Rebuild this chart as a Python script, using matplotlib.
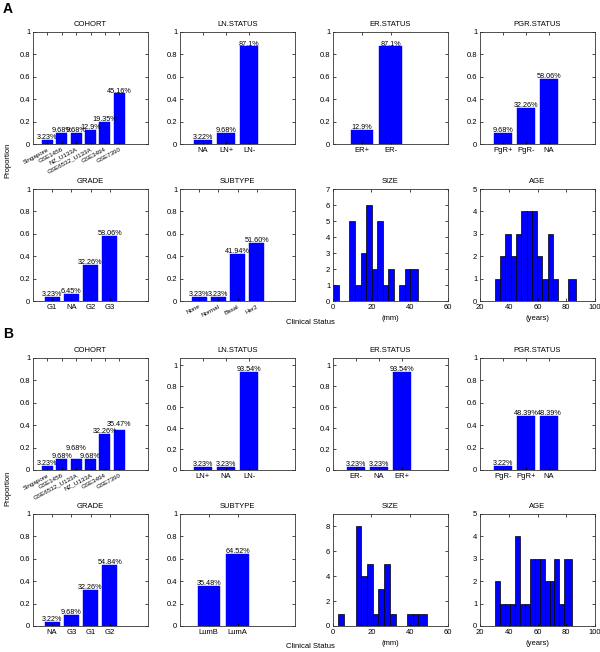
import matplotlib
matplotlib.use("Agg")
import matplotlib.pyplot as plt
import numpy as np

plt.rcParams['font.family'] = ['Liberation Sans Narrow', 'Liberation Sans', 'DejaVu Sans']
plt.rcParams['font.size'] = 5.5

BLUE = '#0000ff'

# ---- panel A data ----
cohort_a_names = ["Singapore", "GSE1456", "NZ_U133A", "GSE6532_U133A", "GSE3494", "GSE7390"]
cohort_a_vals = [0.0323, 0.0968, 0.0968, 0.129, 0.1935, 0.4516]
cohort_a_text = ["3.23%", "9.68%", "9.68%", "12.9%", "19.35%", "45.16%"]

ln_a_names = ["NA", "LN+", "LN-"]
ln_a_vals = [0.0322, 0.0968, 0.871]
ln_a_text = ["3.22%", "9.68%", "87.1%"]

er_a_names = ["ER+", "ER-"]
er_a_vals = [0.129, 0.871]
er_a_text = ["12.9%", "87.1%"]

pgr_a_names = ["PgR+", "PgR-", "NA"]
pgr_a_vals = [0.0968, 0.3226, 0.5806]
pgr_a_text = ["9.68%", "32.26%", "58.06%"]

grade_a_names = ["G1", "NA", "G2", "G3"]
grade_a_vals = [0.0323, 0.0645, 0.3226, 0.5806]
grade_a_text = ["3.23%", "6.45%", "32.26%", "58.06%"]

subtype_a_names = ["None", "Normal", "Basal", "Her2"]
subtype_a_vals = [0.0323, 0.0323, 0.4194, 0.516]
subtype_a_text = ["3.23%", "3.23%", "41.94%", "51.60%"]

size_a_edges = [0, 2.9, 5.8, 8.6, 11.5, 14.4, 17.3, 20.2, 23.0, 25.9, 28.8, 31.6, 34.5, 37.4, 40.3, 44.6]
size_a_counts = [1, 0, 0, 5, 1, 3, 6, 2, 5, 1, 2, 0, 1, 2, 2]

age_a_edges = [30.4, 34.0, 37.7, 41.4, 45.0, 48.7, 52.4, 56.0, 59.7, 63.3, 67.0, 70.7, 74.3, 78.0, 81.4, 87.0]
age_a_counts = [1, 2, 3, 2, 3, 4, 4, 4, 2, 1, 3, 1, 0, 0, 1]

# ---- panel B data ----
cohort_b_names = ["Singapore", "GSE1456", "GSE6532_U133A", "NZ_U133A", "GSE3494", "GSE7390"]
cohort_b_vals = [0.0323, 0.0968, 0.0968, 0.0968, 0.3226, 0.3547]
cohort_b_text = ["3.23%", "9.68%", "9.68%", "9.68%", "32.26%", "35.47%"]

ln_b_names = ["LN+", "NA", "LN-"]
ln_b_vals = [0.0323, 0.0323, 0.9354]
ln_b_text = ["3.23%", "3.23%", "93.54%"]

er_b_names = ["ER-", "NA", "ER+"]
er_b_vals = [0.0323, 0.0323, 0.9354]
er_b_text = ["3.23%", "3.23%", "93.54%"]

pgr_b_names = ["PgR-", "PgR+", "NA"]
pgr_b_vals = [0.0322, 0.4839, 0.4839]
pgr_b_text = ["3.22%", "48.39%", "48.39%"]

grade_b_names = ["NA", "G3", "G1", "G2"]
grade_b_vals = [0.0322, 0.0968, 0.3226, 0.5484]
grade_b_text = ["3.22%", "9.68%", "32.26%", "54.84%"]

subtype_b_names = ["LumB", "LumA"]
subtype_b_vals = [0.3548, 0.6452]
subtype_b_text = ["35.48%", "64.52%"]

size_b_edges = [2.7, 5.7, 8.8, 11.9, 14.7, 17.6, 20.8, 23.4, 26.5, 29.5, 32.7, 35.7, 38.7, 41.9, 44.6, 49.2]
size_b_counts = [1, 0, 0, 8, 4, 5, 1, 3, 5, 1, 0, 0, 1, 1, 1]

age_b_edges = [30.3, 34.1, 37.7, 40.8, 44.1, 47.7, 51.0, 54.6, 58.2, 61.5, 65.1, 68.4, 71.8, 75.1, 78.7, 84.0]
age_b_counts = [2, 1, 1, 1, 4, 1, 1, 3, 3, 3, 2, 2, 3, 1, 3]

W, H = 600, 652
fig = plt.figure(figsize=(6, 6.52), dpi=100)

COL_LEFT = [33, 180, 333, 480]
ROW_TOP = [32, 189, 358, 514]
AX_W, AX_H = 115, 112


def make_axes(row, col):
    l = COL_LEFT[col]
    t = ROW_TOP[row]
    ax = fig.add_axes([l / W, 1 - (t + AX_H) / H, AX_W / W, AX_H / H])
    for s in ax.spines.values():
        s.set_color('#333333')
        s.set_linewidth(0.6)
    ax.tick_params(direction='in', length=2, width=0.5, top=True, right=True, pad=2,
                   labelsize=5.5)
    return ax


def bar_panel(ax, names, vals, texts, title, ytop=1.0, rot=0, lift=None):
    x = np.arange(1, len(vals) + 1)
    ax.bar(x, vals, width=0.78, color=BLUE, edgecolor=BLUE, linewidth=0.3)
    lift = lift or {}
    for i in range(len(vals)):
        ax.text(x[i], vals[i] + 0.008 + lift.get(i, 0), texts[i], ha='center', va='baseline',
                fontsize=5.2)
    ax.set_xlim(0, len(vals) + 2)
    ax.set_ylim(0, ytop)
    ax.set_yticks([0, 0.2, 0.4, 0.6, 0.8, 1])
    ax.set_yticklabels(['0', '0.2', '0.4', '0.6', '0.8', '1'])
    ax.set_xticks(x)
    if rot:
        ax.set_xticklabels(names, rotation=rot, ha='right', va='top', rotation_mode='anchor',
                           fontsize=4.5)
    else:
        ax.set_xticklabels(names)
    ax.set_title(title, fontsize=5.5, pad=4)


def hist_panel(ax, edges, counts, title, xlim, xticks, ytop, yticks, xlabel):
    edges = np.array(edges)
    ax.bar(edges[:-1], counts, width=np.diff(edges), align='edge', color=BLUE,
           edgecolor='black', linewidth=0.5)
    ax.set_xlim(*xlim)
    ax.set_xticks(xticks)
    ax.set_ylim(0, ytop)
    ax.set_yticks(yticks)
    ax.set_xlabel(xlabel, fontsize=5.5, labelpad=3)
    ax.set_title(title, fontsize=5.5, pad=4)


# Panel A
bar_panel(make_axes(0, 0), cohort_a_names, cohort_a_vals, cohort_a_text, "COHORT", rot=28)
bar_panel(make_axes(0, 1), ln_a_names, ln_a_vals, ln_a_text, "LN.STATUS")
bar_panel(make_axes(0, 2), er_a_names, er_a_vals, er_a_text, "ER.STATUS")
bar_panel(make_axes(0, 3), pgr_a_names, pgr_a_vals, pgr_a_text, "PGR.STATUS")
bar_panel(make_axes(1, 0), grade_a_names, grade_a_vals, grade_a_text, "GRADE")
bar_panel(make_axes(1, 1), subtype_a_names, subtype_a_vals, subtype_a_text, "SUBTYPE", rot=28)
hist_panel(make_axes(1, 2), size_a_edges, size_a_counts, "SIZE", (0, 60), [0, 20, 40, 60],
           7, range(0, 8), "(mm)")
hist_panel(make_axes(1, 3), age_a_edges, age_a_counts, "AGE", (20, 100), [20, 40, 60, 80, 100],
           5, range(0, 6), "(years)")

# Panel B
bar_panel(make_axes(2, 0), cohort_b_names, cohort_b_vals, cohort_b_text, "COHORT", rot=28,
          lift={2: 0.075, 5: 0.03})
bar_panel(make_axes(2, 1), ln_b_names, ln_b_vals, ln_b_text, "LN.STATUS", ytop=1.07)
bar_panel(make_axes(2, 2), er_b_names, er_b_vals, er_b_text, "ER.STATUS", ytop=1.07)
bar_panel(make_axes(2, 3), pgr_b_names, pgr_b_vals, pgr_b_text, "PGR.STATUS")
bar_panel(make_axes(3, 0), grade_b_names, grade_b_vals, grade_b_text, "GRADE")
bar_panel(make_axes(3, 1), subtype_b_names, subtype_b_vals, subtype_b_text, "SUBTYPE")
hist_panel(make_axes(3, 2), size_b_edges, size_b_counts, "SIZE", (0, 60), [0, 20, 40, 60],
           9, [0, 2, 4, 6, 8], "(mm)")
hist_panel(make_axes(3, 3), age_b_edges, age_b_counts, "AGE", (20, 100), [20, 40, 60, 80, 100],
           5, range(0, 6), "(years)")

# figure labels
for top, letter in [(2, "A"), (327, "B")]:
    fig.text(3 / W, 1 - top / H, letter, fontsize=10, fontweight='bold', va='top', ha='left',
             family=['Liberation Sans', 'DejaVu Sans'])
for yc in [160, 488]:
    fig.text(8 / W, 1 - yc / H, "Proportion", rotation=90, ha='center', va='center', fontsize=5.5)
for yc in [323, 647]:
    fig.text(310 / W, 1 - yc / H, "Clinical Status", ha='center', va='center', fontsize=5.5)

fig.savefig("out.png", dpi=100)
